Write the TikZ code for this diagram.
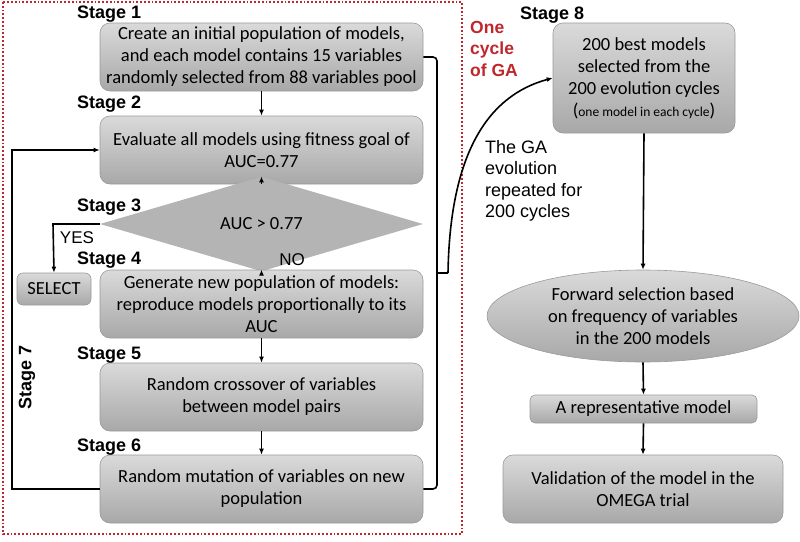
\documentclass[tikz,border=0pt]{standalone}
\usepackage{fontspec}
\setmainfont{Carlito}
\newfontfamily\arialf{Liberation Sans}
\usetikzlibrary{shapes.geometric,arrows.meta}
\definecolor{bordergray}{HTML}{9A9A9A}
\definecolor{topgray}{HTML}{DADADA}
\definecolor{botgray}{HTML}{A8A8A8}
\definecolor{diagray}{HTML}{B4B4B4}
\definecolor{darkred}{HTML}{C0272D}
\tikzset{
  box/.style={draw=bordergray, line width=0.6pt, rounded corners=10pt, top color=topgray, bottom color=botgray,
    align=center, inner sep=2pt, font=\fontsize{18.5}{22}\selectfont},
  stagelab/.style={font=\arialf\bfseries\fontsize{18}{20}\selectfont, anchor=west, inner sep=0pt},
  arr/.style={line width=1.6pt, -{Latex[length=6pt,width=5pt]}},
  conn/.style={line width=1.6pt},
  sidetext/.style={font=\arialf\fontsize{18}{21.5}\selectfont, align=left, anchor=north west, inner sep=0pt},
}
\begin{document}
\begin{tikzpicture}[x=1pt,y=-1pt]
\useasboundingbox (0,0) rectangle (800,541);
% red dotted frame
\draw[darkred, line width=1.8pt, dotted] (3,2) rectangle (462,534);

% left column boxes
\node[box, minimum width=323pt, minimum height=68pt] (b1) at (261.5,57)
  {Create an initial population of models,\\and each model contains 15 variables\\randomly selected from 88 variables pool};
\node[box, minimum width=323pt, minimum height=68pt] (b2) at (261.5,150)
  {Evaluate all models using fitness goal of\\AUC=0.77};
\node[diamond, fill=diagray, minimum width=323pt, minimum height=48pt, inner sep=0pt,
  font=\fontsize{18.5}{20}\selectfont] (dia) at (261.5,224) {AUC > 0.77};
\node[box, rounded corners=6pt, minimum width=74pt, minimum height=32pt] (sel) at (54,289) {SELECT};
\node[box, minimum width=323pt, minimum height=68pt] (b4) at (261.5,304)
  {Generate new population of models:\\reproduce models proportionally to its\\AUC};
\node[box, minimum width=323pt, minimum height=68pt] (b5) at (261.5,397)
  {Random crossover of variables\\between model pairs};
\node[box, minimum width=323pt, minimum height=68pt] (b6) at (261.5,489)
  {Random mutation of variables on new\\population};

% stage labels
\node[stagelab] (s1) at (77,14) {Stage 1};
\node[stagelab] (s2) at (77,104) {Stage 2};
\node[stagelab] (s3) at (77,207) {Stage 3};
\node[stagelab] (s4) at (77,260) {Stage 4};
\node[stagelab] (s5) at (77,355) {Stage 5};
\node[stagelab] (s6) at (77,447) {Stage 6};
\node[stagelab, anchor=center, rotate=90] (s7) at (27,377) {Stage 7};
\node[stagelab] (s8) at (520,15) {Stage 8};

% right column
\node[box, minimum width=182pt, minimum height=110pt] (b8) at (644,78)
  {200 best models\\selected from the\\200 evolution cycles\\({\fontsize{13.5}{15}\selectfont one model in each cycle})};
\node[ellipse, draw=bordergray, line width=0.6pt, top color=topgray, bottom color=botgray, minimum width=312pt,
  minimum height=92pt, inner sep=0pt, align=center, font=\fontsize{18.5}{22}\selectfont] (ell) at (643,316)
  {Forward selection based\\on frequency of variables\\in the 200 models};
\node[box, rounded corners=5pt, minimum width=227pt, minimum height=28pt] (rep) at (643.5,409) {A representative model};
\node[box, minimum width=280pt, minimum height=68pt] (val) at (643,489)
  {Validation of the model in the\\OMEGA trial};

% texts
\node[font=\arialf\bfseries\fontsize{17.5}{21.5}\selectfont, text=darkred, align=left, anchor=north west, inner sep=0pt]
  (cyc) at (470,21) {One\\cycle\\of GA};
\node[sidetext] (ga) at (485,140) {The GA\\evolution\\repeated for\\200 cycles};
\node[font=\arialf\fontsize{17}{19}\selectfont, inner sep=0pt] (yes) at (77,238) {YES};
\node[font=\arialf\fontsize{17}{19}\selectfont, inner sep=0pt] (no) at (292,260) {NO};

% connectors
\draw[arr] (b1.south) -- (b2.north);
\draw[arr] (b2.south) -- (dia.north);
\draw[arr] (dia.south) -- (b4.north);
\coordinate (ycorner) at (53,224);
\draw[arr] (dia.west) -- (ycorner) -- (sel.north);
\draw[arr] (b4.south) -- (b5.north);
\draw[arr] (b5.south) -- (b6.north);
\coordinate (lp) at (12,300);
\draw[arr] (b6.west) -| (lp) |- (b2.west);

% bracket
\coordinate (brt) at (437,57);
\coordinate (brb) at (437,489);
\coordinate (brm) at (437,273);
\coordinate (brtip) at (448,273);
\draw[conn, rounded corners=4pt] (b1.east) -- (brt) -- (brb) -- (b6.east);
\draw[conn] (brm) -- (brtip);
\draw[arr] (brtip) .. controls (450,150) and (490,95) .. (b8.west);

\draw[arr] (b8.south) -- (ell.north);
\draw[arr] (ell.south) -- (rep.north);
\draw[arr] (rep.south) -- (val.north);
\end{tikzpicture}
\end{document}
